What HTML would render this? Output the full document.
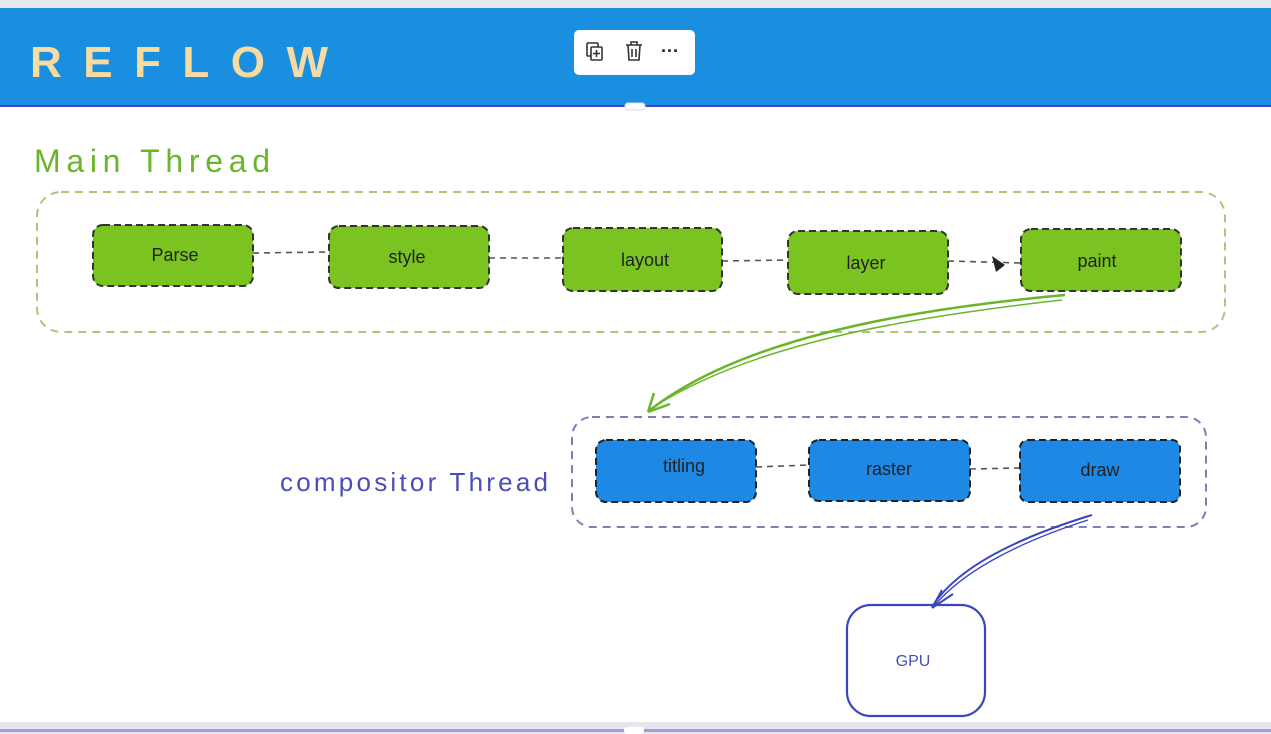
<!DOCTYPE html>
<html><head><meta charset="utf-8"><style>
html,body{margin:0;padding:0;background:#fff;}
svg{display:block;}
text{font-family:"Comic Sans MS","Liberation Sans",sans-serif;}
</style></head><body>
<svg width="1271" height="734" viewBox="0 0 1271 734" xmlns="http://www.w3.org/2000/svg">
<rect x="0" y="0" width="1271" height="8" fill="#e8e9ee"/>
<rect x="0" y="8" width="1271" height="98" fill="#1a8fe0"/>
<rect x="0" y="105" width="1271" height="2" fill="#4a3fd0"/>
<text x="30" y="77" font-size="44" fill="#f7dba0" font-weight="bold" textLength="298" lengthAdjust="spacing">REFLOW</text>
<rect x="574" y="30" width="121" height="45" rx="5" fill="#fff"/>
<g stroke="#333" stroke-width="1.6" fill="none">
<rect x="587" y="43" width="11" height="13" rx="1"/>
<rect x="591" y="47" width="11" height="13" rx="1" fill="#fff"/>
<path d="M596.5 50v7M593 53.5h7"/>
<path d="M626 45h16M631 45v-3h6v3M628 45l1 15h10l1-15M632 49v8M636 49v8"/>
</g>
<text x="661" y="57" font-size="18" fill="#222" font-weight="bold">···</text>
<rect x="625" y="103" width="20" height="7" rx="3" fill="#fff" stroke="#ddd"/>

<text x="34" y="172" font-size="32" fill="#6bb52a" textLength="236" lengthAdjust="spacing">Main Thread</text>
<rect x="37" y="192" width="1188" height="140" rx="24" fill="none" stroke="#a8c97a" stroke-width="2" stroke-dasharray="8 6"/>

<g stroke="#555" stroke-width="1.6" stroke-dasharray="6 5">
<path d="M253 253 L329 252"/><path d="M489 258 L563 258"/><path d="M722 261 L788 260"/><path d="M948 261 L1021 263"/>
</g>
<g fill="#7ac320" stroke="#333" stroke-width="2" stroke-dasharray="7 4">
<rect x="93" y="225" width="160" height="61" rx="10"/>
<rect x="329" y="226" width="160" height="62" rx="10"/>
<rect x="563" y="228" width="159" height="63" rx="10"/>
<rect x="788" y="231" width="160" height="63" rx="10"/>
<rect x="1021" y="229" width="160" height="62" rx="10"/>
</g>
<g font-size="18" fill="#222" text-anchor="middle">
<text x="175" y="261">Parse</text><text x="407" y="263">style</text><text x="645" y="266">layout</text><text x="866" y="269">layer</text><text x="1097" y="267">paint</text>
</g>
<path d="M992 256 L1005 265 L996 272 Z" fill="#222"/>

<path d="M1065 295 C900 310 740 340 650 410" fill="none" stroke="#6bb52a" stroke-width="2.5"/>
<path d="M1062 300 C900 318 750 345 652 408" fill="none" stroke="#6bb52a" stroke-width="1.5"/>
<path d="M648 412 L654 393 M648 412 L670 404" stroke="#6bb52a" stroke-width="2.5" fill="none"/>

<text x="280" y="491" font-size="26" fill="#4a4fb8" textLength="268" lengthAdjust="spacing">compositor Thread</text>
<rect x="572" y="417" width="634" height="110" rx="20" fill="none" stroke="#7b80b8" stroke-width="2" stroke-dasharray="8 6"/>
<g stroke="#555" stroke-width="1.6" stroke-dasharray="6 5">
<path d="M756 467 L809 465"/><path d="M970 469 L1020 468"/>
</g>
<g fill="#1e88e5" stroke="#222" stroke-width="2" stroke-dasharray="7 4">
<rect x="596" y="440" width="160" height="62" rx="10"/>
<rect x="809" y="440" width="161" height="61" rx="10"/>
<rect x="1020" y="440" width="160" height="62" rx="8"/>
</g>
<g font-size="18" fill="#222" text-anchor="middle">
<text x="684" y="472">titling</text><text x="889" y="475">raster</text><text x="1100" y="476">draw</text>
</g>

<path d="M1092 515 C1010 540 955 570 932 607" fill="none" stroke="#3a45c0" stroke-width="2"/>
<path d="M1088 520 C1010 545 960 575 935 605" fill="none" stroke="#3a45c0" stroke-width="1.3"/>
<path d="M932 608 L942 590 M932 608 L953 594" stroke="#3a45c0" stroke-width="2" fill="none"/>
<rect x="847" y="605" width="138" height="111" rx="24" fill="none" stroke="#3a45c0" stroke-width="2.2"/>
<text x="913" y="666" font-size="16" fill="#4a4fb8" text-anchor="middle">GPU</text>

<rect x="0" y="722" width="1271" height="12" fill="#e6e6ec"/>
<rect x="0" y="729" width="1271" height="3" fill="#a99ad8"/>
<rect x="624" y="727" width="20" height="7" rx="3" fill="#fff"/>
</svg>
</body></html>
